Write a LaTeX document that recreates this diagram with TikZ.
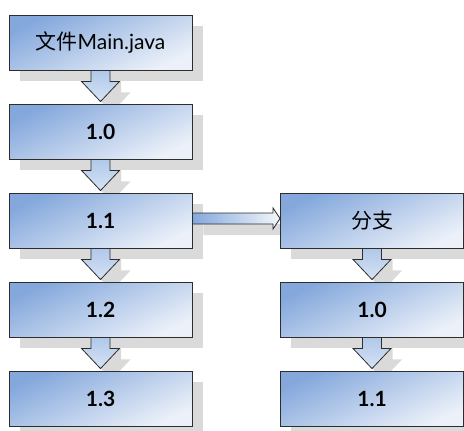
\documentclass[tikz,border=0pt]{standalone}
\usepackage{fontspec}
\setmainfont{Lato}
\newfontfamily\cjk{Noto Sans CJK SC}
\usetikzlibrary{calc}
\pgfdeclarelayer{shadowlayer}
\pgfdeclarelayer{arrowlayer}
\pgfsetlayers{shadowlayer,arrowlayer,main}
\definecolor{boxtop}{RGB}{132,168,220}
\definecolor{boxbot}{RGB}{236,241,249}
\definecolor{edgec}{RGB}{45,45,45}
\definecolor{shadowc}{RGB}{218,218,218}
\definecolor{arrtop}{RGB}{176,200,234}
\definecolor{arrbot}{RGB}{214,227,244}
\tikzset{
  stagebox/.style={draw=edgec, line width=0.9pt, minimum width=183pt, minimum height=55pt,
    inner sep=0pt, top color=boxtop, bottom color=boxbot, shading angle=25,
    font=\fontsize{21}{25}\selectfont\bfseries},
  blockarrow/.style={draw=edgec, line width=0.8pt, top color=arrtop, bottom color=arrbot},
  sidearrow/.style={draw=edgec, line width=0.8pt, left color=boxtop, right color=boxbot!60!white},
  shadowfill/.style={fill=shadowc, draw=none, transform canvas={shift={(11pt,-11pt)}}}
}
\newcommand\blockdownpath[2]{%
  ($(#1.south)+(-9.5,0)$) -- ($(#1.south)+(-9.5,11)$) -- ($(#1.south)+(-19,11)$) --
  ($(#2.north)+(0,-2)$) -- ($(#1.south)+(19,11)$) -- ($(#1.south)+(9.5,11)$) --
  ($(#1.south)+(9.5,0)$) -- cycle}
\begin{document}
\begin{tikzpicture}[x=1pt,y=-1pt]
\useasboundingbox (0,0) rectangle (464,431);
% boxes
\node[stagebox] (file) at (100.5,42.5) {\fontseries{m}\selectfont{\cjk 文件}Main.java};
\node[stagebox] (a10) at (100.5,131.5) {1.0};
\node[stagebox] (a11) at (100.5,220.5) {1.1};
\node[stagebox] (a12) at (100.5,309.5) {1.2};
\node[stagebox] (a13) at (100.5,398.5) {1.3};
\node[stagebox] (br) at (372,220.5) {\fontseries{m}\selectfont\cjk 分支};
\node[stagebox] (b10) at (372,309.5) {1.0};
\node[stagebox] (b11) at (372,398.5) {1.1};
% shadows
\begin{pgfonlayer}{shadowlayer}
  \foreach \n in {file,a10,a11,a12,a13,br,b10,b11}
    \fill[shadowfill] (\n.south west) rectangle (\n.north east);
  \fill[shadowfill] \blockdownpath{file}{a10};
  \fill[shadowfill] \blockdownpath{a10}{a11};
  \fill[shadowfill] \blockdownpath{a11}{a12};
  \fill[shadowfill] \blockdownpath{a12}{a13};
  \fill[shadowfill] \blockdownpath{br}{b10};
  \fill[shadowfill] \blockdownpath{b10}{b11};
  \fill[shadowfill] ($(a11.east)+(0,-7.5)$) -- ($(br.west)+(-7,-7.5)$) -- ($(br.west)+(-7,-12.5)$) --
    ($(br.west)+(0,-2)$) -- ($(br.west)+(-7,8.5)$) -- ($(br.west)+(-7,3.5)$) -- ($(a11.east)+(0,3.5)$) -- cycle;
\end{pgfonlayer}
% arrows
\begin{pgfonlayer}{arrowlayer}
  \path[blockarrow] \blockdownpath{file}{a10};
  \path[blockarrow] \blockdownpath{a10}{a11};
  \path[blockarrow] \blockdownpath{a11}{a12};
  \path[blockarrow] \blockdownpath{a12}{a13};
  \path[blockarrow] \blockdownpath{br}{b10};
  \path[blockarrow] \blockdownpath{b10}{b11};
  \path[sidearrow] ($(a11.east)+(0,-7.5)$) -- ($(br.west)+(-7,-7.5)$) -- ($(br.west)+(-7,-12.5)$) --
    ($(br.west)+(0,-2)$) -- ($(br.west)+(-7,8.5)$) -- ($(br.west)+(-7,3.5)$) -- ($(a11.east)+(0,3.5)$) -- cycle;
\end{pgfonlayer}
\end{tikzpicture}
\end{document}
